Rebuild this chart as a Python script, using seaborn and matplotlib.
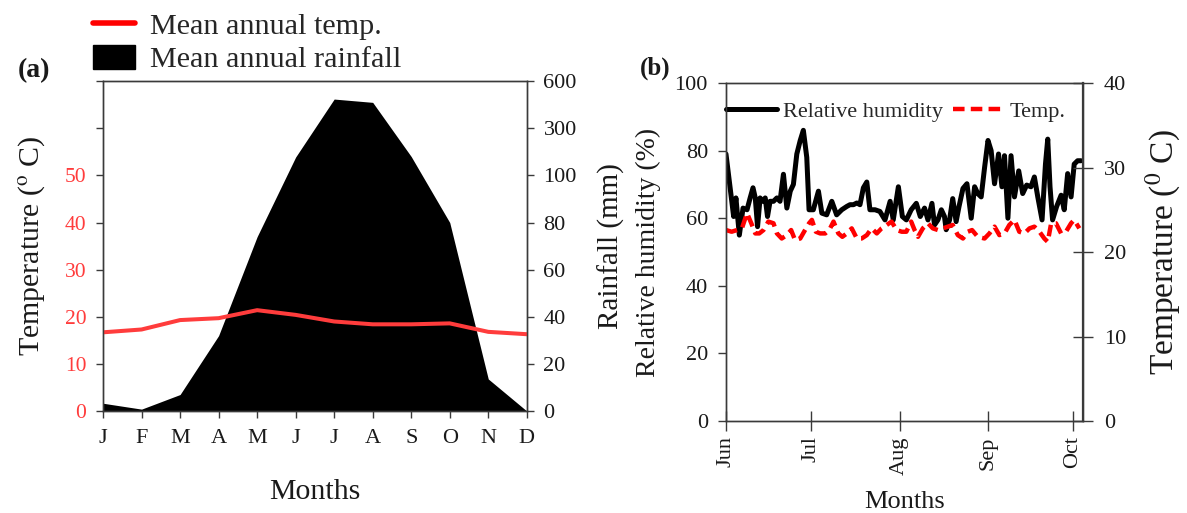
import numpy as np
import matplotlib
matplotlib.use("Agg")
import matplotlib.pyplot as plt
from matplotlib.lines import Line2D
from matplotlib.patches import Patch
import seaborn as sns

# ---------------- data: (a) monthly climate ----------------
months_a = ["J", "F", "M", "A", "M", "J", "J", "A", "S", "O", "N", "D"]
mean_temp = [16.7, 17.3, 19.3, 19.7, 21.4, 20.4, 19.0, 18.4, 18.4, 18.6, 16.8, 16.3]
mean_rain = [3.3, 0.8, 7, 32, 74, 178, 486, 465, 180, 80, 13.6, 0]
temp_ticks_a = [0, 10, 20, 30, 40, 50, 60, 70]
temp_labels_a = ["0", "10", "20", "30", "40", "50", "", ""]
rain_ticks = [0, 20, 40, 60, 80, 100, 300, 600]
# broken rainfall axis: mm values and where they sit on the temperature scale
rain_break_mm = [0, 100, 300, 600]
rain_break_pos = [0, 50, 60, 70]

# ---------------- data: (b) daily records, days since 1 June ----------------
rh_day = [0, 2.7, 3.5, 4.7, 6, 7.4, 8.5, 9.5, 10.3, 11.1, 12, 12.9, 13.8, 14.6, 15.5,
          16.7, 17.9, 19, 20.2, 21.4, 22.6, 23.7, 24.9, 26.1, 27.2, 28.4, 29.2, 30.7,
          32.5, 33.7, 35.4, 37.2, 38.9, 40.7, 42.5, 43.6, 44.8, 46, 47.1, 48.3, 49.5,
          50.6, 52.4, 54.1, 55.9, 57.7, 58.8, 60.6, 62, 63.4, 65.1, 66.9, 68.3, 69.8,
          71, 72.4, 73.3, 74.5, 75.7, 76.8, 77.4, 78.6, 79.7, 80.9, 81.9, 83.3, 84.7,
          86.2, 87.4, 88.5, 89.7, 90.9, 92.1, 93.2, 94.4, 95.8, 97, 97.9, 99.1, 100.2,
          101.4, 102.9, 104.3, 105.7, 107.2, 108.4, 109.6, 111.1, 112.3, 113.1, 113.9,
          114.8, 116.2, 117.8, 118.9, 120.1, 121.3, 122.4, 123.6, 124.8]
rh_val = [79, 60.5, 66, 55, 63, 62.5, 66, 69, 66, 57.5, 66, 65, 66, 60.5, 65,
          65, 66, 65, 73, 63, 68, 70, 79, 83, 86, 78, 62.5, 62.5,
          68, 61.5, 61, 65, 61, 62.5, 63.5, 64, 64, 64.5, 64, 69, 70.7,
          62.5, 62.5, 62, 59.5, 65, 59.5, 69.3, 60.5, 59.5, 62.5, 64.4, 60.5, 63,
          59.5, 64.4, 58, 59.5, 62.5, 60.5, 56.6, 59.5, 65.8, 59, 63.4, 68.8, 70.2,
          60, 69.3, 67.3, 66.3, 75, 83, 80, 70.2, 79, 69.3, 78.5, 60, 78.5,
          66.3, 74, 67.3, 69.8, 69.3, 72.2, 66.3, 59.5, 76, 83.4, 69.3,
          59.5, 63.4, 66.8, 62.5, 73.2, 66.3, 76, 77, 77]
tb_day = [0, 2, 3.9, 5.6, 7.4, 8.9, 10.3, 11.7, 13.2, 14.9, 16.7, 17.9, 19.6, 21.4,
          22.9, 24.3, 26.1, 27.8, 29.2, 30.2, 31.6, 33.1, 34.9, 36.3, 37.8, 39.5,
          40.9, 42.5, 44.2, 46, 47.7, 49.5, 51.2, 53, 54.7, 56.5, 58.2, 60, 61.8,
          63.4, 65.1, 66.3, 67.5, 69.2, 71, 72.7, 74.5, 76.3, 78, 79.7, 81.5, 83.3,
          85, 86.5, 88.5, 90.9, 92.6, 94.4, 96.1, 97.9, 99.6, 101.4, 103.1, 104.9,
          106.7, 108.4, 110.2, 111.9, 113.1, 114.3, 116, 117.8, 119.5, 121.3, 122.4,
          124.2]
tb_val = [22.6, 22.4, 22.6, 22.8, 24.6, 23.4, 22.2, 22.2, 22.6, 23.6, 23.4, 22.2, 21.6, 22.0,
          22.6, 21.4, 21.6, 22.6, 23.4, 23.8, 22.4, 22.2, 22.2, 22.6, 23.6, 22.2,
          21.8, 22.2, 22.8, 21.6, 21.6, 22.0, 22.8, 22.2, 22.8, 23.2, 23.6, 22.6, 22.4,
          22.4, 23.6, 22.6, 21.8, 22.8, 23.4, 22.8, 22.6, 22.8, 23.0, 23.2, 22.0, 21.6,
          22.4, 22.6, 21.8, 21.6, 22.2, 23.0, 22.0, 22.2, 23.2, 23.8, 22.4, 22.2,
          22.8, 23.0, 22.4, 21.6, 21.2, 23.4, 23.4, 22.2, 22.4, 23.4, 23.8,
          22.8]
month_start_day = [0, 30, 61, 92, 122]
month_names_b = ["Jun", "Jul", "Aug", "Sep", "Oct"]
rh_ticks = [0, 20, 40, 60, 80, 100]
temp_ticks_b = [0, 10, 20, 30, 40]

# ---------------- style ----------------
sns.set_theme(style="ticks")
plt.rcParams["font.family"] = ["Liberation Serif", "DejaVu Serif"]
plt.rcParams["mathtext.fontset"] = "stix"
INK = "#1a1a1a"
SPINE = "#3a3a3a"
TEMP_RED = "#ff3c3c"

fig = plt.figure(figsize=(11.87, 5.13), dpi=100)
ax_a = fig.add_axes([0.0868, 0.1988, 0.357, 0.643])
ax_b = fig.add_axes([0.6116, 0.1793, 0.3008, 0.6589])


def rain_fwd(v):
    return np.interp(v, rain_break_mm, rain_break_pos, left=-1e9, right=1e9)


def rain_inv(v):
    return np.interp(v, rain_break_pos, rain_break_mm, left=-1e9, right=1e9)


# ---------------- panel (a) ----------------
x_a = np.arange(len(months_a))
ax_a2 = ax_a.twinx()
ax_a2.set_yscale("function", functions=(rain_fwd, rain_inv))
ax_a2.fill_between(x_a, 0, mean_rain, color="black", lw=0)
ax_a2.set_ylim(0, 600)
ax_a2.set_yticks(rain_ticks)
ax_a2.set_yticklabels([str(t) for t in rain_ticks])
ax_a2.yaxis.set_minor_locator(matplotlib.ticker.NullLocator())

sns.lineplot(x=x_a, y=mean_temp, ax=ax_a, color=TEMP_RED, lw=2.9, legend=False)
ax_a.set_zorder(ax_a2.get_zorder() + 1)
ax_a.patch.set_visible(False)
ax_a.set_xlim(0, 11)
ax_a.set_ylim(0, 70)
ax_a.set_yticks(temp_ticks_a)
ax_a.set_yticklabels(temp_labels_a)
ax_a.set_xticks(x_a)
ax_a.set_xticklabels(months_a)

ax_a.tick_params(axis="y", direction="out", length=5, width=1, color=SPINE,
                 labelsize=15.5, labelcolor=TEMP_RED, pad=7)
ax_a.tick_params(axis="x", direction="out", length=5, width=1, color=SPINE,
                 labelsize=16, labelcolor=INK, pad=8)
ax_a2.tick_params(axis="y", direction="out", length=5, width=1, color=SPINE,
                  labelsize=16, labelcolor=INK, pad=7)

ax_a.set_ylabel("Temperature ($^{\\mathrm{o}}$ C)", fontsize=21.5, color=INK, labelpad=13)
ax_a2.set_ylabel("Rainfall (mm)", fontsize=21, color=INK, labelpad=15)
ax_a.set_xlabel("Months", fontsize=21.5, color=INK, labelpad=22)

for a in (ax_a, ax_a2):
    for s in a.spines.values():
        s.set_color(SPINE)
        s.set_linewidth(1.0)

fig.legend(handles=[Line2D([], [], color="#ff0000", lw=4),
                    Patch(facecolor="black", edgecolor="black")],
           labels=["Mean annual temp.", "Mean annual rainfall"],
           loc="upper left", bbox_to_anchor=(93 / 1187, 1 - 12 / 513),
           frameon=False, fontsize=21.7, handlelength=1.4, handleheight=0.85,
           handletextpad=0.5, labelspacing=0.15, borderpad=0, borderaxespad=0)
fig.text(18 / 1187, 1 - 71 / 513, "(a)", fontsize=20, fontweight="bold",
         va="center", ha="left", color=INK)

# ---------------- panel (b) ----------------
sns.lineplot(x=rh_day, y=rh_val, ax=ax_b, color="black", lw=3.6, legend=False,
             estimator=None, solid_joinstyle="round", solid_capstyle="round")
ax_b2 = ax_b.twinx()
sns.lineplot(x=tb_day, y=tb_val, ax=ax_b2, color="#ff0000", lw=3.2, legend=False,
             estimator=None, linestyle=(0, (2.6, 1.4)))

ax_b.set_xlim(0, 125.5)
ax_b.set_ylim(0, 100)
ax_b2.set_ylim(0, 40)
ax_b.set_yticks(rh_ticks)
ax_b2.set_yticks(temp_ticks_b)
ax_b.set_xticks(month_start_day)
ax_b.set_xticklabels(month_names_b, rotation=90)

ax_b.tick_params(axis="y", direction="out", length=6, width=1, color=SPINE,
                 labelsize=16, labelcolor=INK, pad=7)
ax_b.tick_params(axis="x", direction="inout", length=14, width=1, color=SPINE,
                 labelsize=16, labelcolor=INK, pad=4)
ax_b2.tick_params(axis="y", direction="inout", length=14, width=1, color=SPINE,
                  labelsize=16, labelcolor=INK, pad=8)

ax_b.set_ylabel("Relative humidity (%)", fontsize=20, color=INK, labelpad=10)
ax_b2.set_ylabel("Temperature ($^{0}$ C)", fontsize=24, color=INK, labelpad=13)
ax_b.set_xlabel("Months", fontsize=19, color=INK, labelpad=12)

for a in (ax_b, ax_b2):
    for s in a.spines.values():
        s.set_color(SPINE)
        s.set_linewidth(1.0)
ax_b2.spines["right"].set_linewidth(1.6)

ax_b.legend(handles=[Line2D([], [], color="black", lw=3.6),
                     Line2D([], [], color="#ff0000", lw=3.2, linestyle=(0, (2.6, 1.4)))],
            labels=["Relative humidity", "Temp."],
            loc="upper left", bbox_to_anchor=(0.0, 0.945), ncol=2, frameon=False,
            fontsize=16, handlelength=2.3, handletextpad=0.25, columnspacing=0.45,
            borderpad=0, borderaxespad=0)
fig.text(640 / 1187, 1 - 68 / 513, "(b)", fontsize=18, fontweight="bold",
         va="center", ha="left", color=INK)

fig.savefig("out.png", dpi=100)
